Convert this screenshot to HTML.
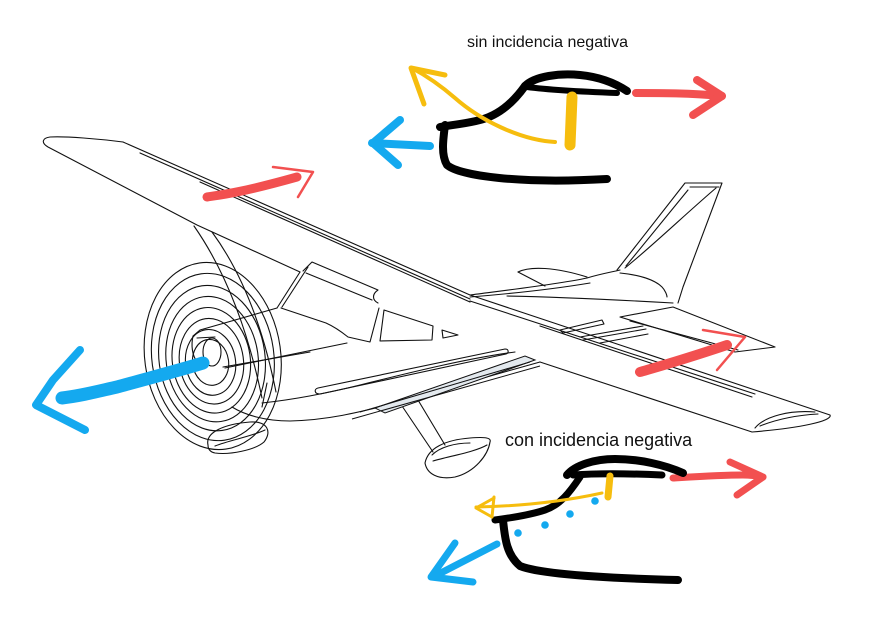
<!DOCTYPE html>
<html><head><meta charset="utf-8">
<style>
html,body{margin:0;padding:0;background:#fff;}
svg{display:block;}
</style></head>
<body>
<svg width="875" height="620" viewBox="0 0 875 620" xmlns="http://www.w3.org/2000/svg">
<rect width="875" height="620" fill="#fff"/>

<!-- AIRPLANE LINE ART -->
<g fill="none" stroke="#111" stroke-width="1.1" stroke-linejoin="round" stroke-linecap="round">
  <!-- left wing -->
  <path d="M123,142 C100,139 65,136 50,137 C42,138 41,143 48,147 L197,225 L300,272"/>
  <path d="M123,142 L470,295"/>
  <path d="M140,153 L470,299"/>
  <path d="M200,182 L470,302"/>
  <!-- struts -->
  <path d="M194,226 Q240,292 262,398"/>
  <path d="M212,232 Q256,292 276,392"/>

  <!-- right wing -->
  <path d="M470,295 L830,415 C833,421 800,428 752,432 L540,362"/>
  <path d="M470,301 L755,394"/>
  <path d="M540,326 L752,397"/>
  <path d="M755,428 C765,416 790,410 815,412"/>
  <path d="M760,426 C780,418 800,415 818,414"/>

  <!-- slats / flaps near root -->
  <path d="M560,330 L602,320 L604,324 L563,333 Z"/>
  <path d="M580,337 L643,326"/>
  <path d="M583,340 L646,329"/>
  <path d="M600,343 L648,334"/>

  <!-- right horizontal stab -->
  <path d="M620,317 L673,307 L775,347 L735,352 Z"/>
  <path d="M630,321 L738,350"/>

  <!-- vertical fin -->
  <path d="M617,270 L685,183 L722,183 L683,287 L678,303"/>
  <path d="M690,187 L719,187"/>
  <path d="M716,188 C690,210 650,248 625,268"/>
  <path d="M688,190 L626,266"/>

  <!-- fuselage top / tail -->
  <path d="M470,295 C500,291 560,284 587,278 C600,274 612,272 620,270"/>
  <path d="M518,272 C530,266 555,267 587,277"/>
  <path d="M518,272 L545,286"/>
  <path d="M620,273 C640,275 655,280 662,287 C665,290 667,295 667,297"/>
  <path d="M507,296 C560,297 620,300 673,303"/>
  <path d="M470,297 C520,293 560,288 590,283"/>

  <!-- cabin -->
  <path d="M300,272 L277,308"/>
  <path d="M308,267 L282,307"/>
  <path d="M303,271 L312,262 L378,290 C372,294 372,300 378,303"/>
  <path d="M306,273 L372,300"/>
  <path d="M281,308 L326,323 C335,327 343,333 348,337 L370,342 L379,308"/>
  <path d="M384,310 L433,326 L432,340 L380,341 Z"/>
  <path d="M442,330 L458,335 L443,338 Z"/>

  <!-- cowling / fuselage -->
  <path d="M193,336 L200,330 L277,308"/>
  <path d="M193,336 C191,345 192,355 197,362"/>
  <path d="M225,368 L347,343"/>
  <path d="M223,367 L310,352"/>
  <path d="M262,403 C290,400 320,395 360,385 C420,370 470,358 515,352"/>
  <path d="M232,407 C245,415 265,421 290,421 C330,420 360,412 400,402 C440,390 490,376 540,362"/>
  <path d="M318,388 L505,349 C509,349 509,353 506,354 L320,394 C314,394 314,389 318,388 Z"/>
  <path d="M267,383 L262,407"/>

  <!-- spinner -->
  <ellipse cx="212" cy="352" rx="9" ry="14"/>
  <path d="M197,338 L215,337"/>

  <!-- propeller disc rings -->
  <g transform="rotate(-8 213 358)">
    <ellipse cx="213" cy="356" rx="68" ry="94"/>
    <ellipse cx="213" cy="357" rx="61" ry="84"/>
    <ellipse cx="212" cy="358" rx="53" ry="73"/>
    <ellipse cx="212" cy="359" rx="46" ry="63"/>
    <ellipse cx="211" cy="360" rx="39" ry="53"/>
    <ellipse cx="211" cy="361" rx="32" ry="43"/>
    <ellipse cx="210" cy="362" rx="25" ry="33"/>
    <ellipse cx="210" cy="362" rx="18" ry="23"/>
  </g>

  <!-- nose wheel fairing -->
  <path d="M208,445 C205,432 225,424 250,422 C268,421 272,432 264,442 C255,450 230,455 215,453 C210,452 208,449 208,445 Z"/>
  <path d="M215,446 C230,440 250,437 265,430"/>

  <!-- main gear -->
  <path d="M400,403 L433,452"/>
  <path d="M418,400 L445,445"/>
  <path d="M425,463 C428,448 445,440 470,438 C482,437 492,437 490,442 C488,455 475,472 455,477 C438,480 427,474 425,463 Z"/>
  <path d="M432,455 C440,447 455,443 470,443"/>
  <path d="M433,461 C450,456 475,452 487,445"/>
</g>

<!-- gray strip under fuselage -->
<polygon points="375,408 525,356 535,360 385,413" fill="#e3e9ee" stroke="#111" stroke-width="1"/>
<g fill="none" stroke="#111" stroke-width="1">
  <path d="M360,412 L530,362"/>
  <path d="M352,419 L540,366"/>
</g>

<!-- RED ARROWS -->
<g fill="none" stroke="#f25050" stroke-linecap="round" stroke-linejoin="round">
  <path d="M207,197 C220,195 240,193 297,177" stroke-width="9"/>
  <path d="M273,167 L313,172 L298,197" stroke-width="2.5"/>
  <path d="M640,372 C650,369 673,363 727,345" stroke-width="10"/>
  <path d="M703,330 L745,337 L717,370" stroke-width="2.5"/>
  <path d="M636,93 C660,93 690,93 722,96" stroke-width="8"/>
  <path d="M697,80 L722,96 L693,115" stroke-width="8"/>
  <path d="M673,478 C690,477 720,475 743,475 C752,475 758,476 763,477" stroke-width="7"/>
  <path d="M730,462 L763,477 L737,495" stroke-width="7"/>
</g>

<!-- BLUE ARROWS -->
<g fill="none" stroke="#14a9ef" stroke-linecap="round" stroke-linejoin="round">
  <path d="M203,363 C180,370 150,378 117,387 C95,392 80,396 62,398" stroke-width="13"/>
  <path d="M80,350 L53,380 L36,405 L85,430" stroke-width="8"/>
  <path d="M430,146 L372,143" stroke-width="8"/>
  <path d="M400,120 L373,143 L398,165" stroke-width="8"/>
  <path d="M497,544 L433,577" stroke-width="7"/>
  <path d="M455,543 L431,577 L473,582" stroke-width="7"/>
</g>
<g fill="#14a9ef">
  <circle cx="518" cy="533" r="3.8"/>
  <circle cx="545" cy="525" r="3.8"/>
  <circle cx="570" cy="514" r="3.8"/>
  <circle cx="595" cy="501" r="3.8"/>
</g>

<!-- BLACK AIRFOIL SKETCHES -->
<g fill="none" stroke="#000" stroke-linecap="round" stroke-linejoin="round">
  <path d="M525,86 C535,76 560,73 580,75 C600,77 615,83 627,91" stroke-width="8"/>
  <path d="M527,87 C550,90 590,92 617,93" stroke-width="6"/>
  <path d="M525,86 C515,100 500,115 480,120 C465,124 450,125 440,127" stroke-width="8"/>
  <path d="M445,125 C443,140 441,155 447,165 C460,176 520,184 607,179" stroke-width="8"/>

  <path d="M567,475 C575,465 595,459 615,459 C640,459 665,465 683,473" stroke-width="8"/>
  <path d="M573,475 C600,473 640,474 662,475" stroke-width="7"/>
  <path d="M580,477 C570,492 560,505 545,510 C530,515 510,518 495,520" stroke-width="7"/>
  <path d="M503,520 C505,540 507,555 520,566 C540,574 600,578 678,580" stroke-width="8"/>
</g>

<!-- YELLOW -->
<g fill="none" stroke="#f6bd0e" stroke-linecap="round" stroke-linejoin="round">
  <path d="M572,97 L570,145" stroke-width="11"/>
  <path d="M555,142 C520,140 480,120 455,98 C440,85 425,75 412,68" stroke-width="4"/>
  <path d="M445,75 L411,68 L424,104" stroke-width="5"/>
  <path d="M610,476 L608,497" stroke-width="7"/>
  <path d="M602,493 C570,500 530,506 476,507" stroke-width="3"/>
  <path d="M494,498 L476,508 L492,517" stroke-width="3"/>
  <path d="M494,497 L492,517" stroke-width="3"/>
</g>

<!-- TEXT -->
<text x="467" y="47" font-family="Liberation Sans, Arial, sans-serif" font-size="16" fill="#111">sin incidencia negativa</text>
<text x="505" y="446" font-family="Liberation Sans, Arial, sans-serif" font-size="18" fill="#111">con incidencia negativa</text>
</svg>
</body></html>
